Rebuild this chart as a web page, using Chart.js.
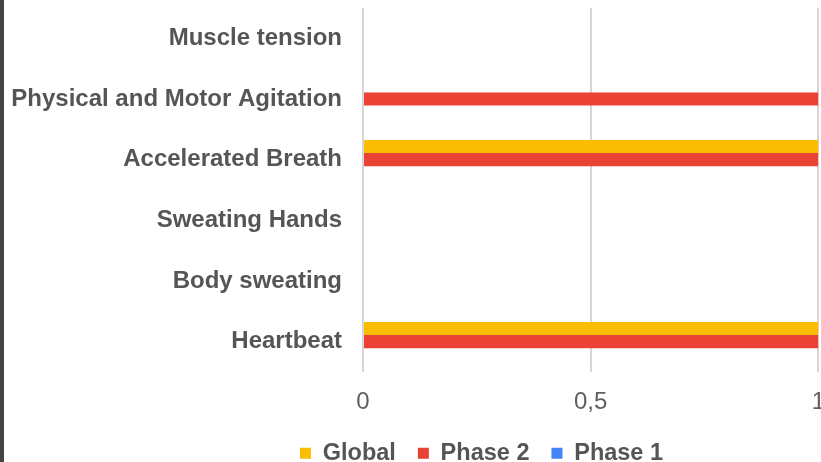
<!DOCTYPE html>
<html>
<head>
<meta charset="utf-8">
<script src="https://cdn.jsdelivr.net/npm/chart.js@4"></script>
<style>
    html, body { margin: 0; padding: 0; background: #fff; overflow: hidden; width: 821px; height: 462px; }
    #wrap { position: absolute; left: 0; top: 0; width: 841px; height: 475px; }
    #borde { position: absolute; left: 0; top: 0; width: 4px; height: 462px; background: #444; z-index: 2; }
</style>
</head>
<body>
<div id="borde"></div>
<div id="wrap"><canvas id="graficoSintomas"></canvas></div>
<script>
const categorias = ['Muscle tension', 'Physical and Motor Agitation', 'Accelerated Breath', 'Sweating Hands', 'Body sweating', 'Heartbeat'];
const valoresGlobal = [0, 0, 1, 0, 0, 1];
const valoresFase2 = [0, 1, 1, 0, 0, 1];
const valoresFase1 = [0, 0, 0, 0, 0, 0];
const ticksX = [0, 0.5, 1];
const etiquetasX = ['0', '0,5', '1'];

// la leyenda del original no esta centrada en el lienzo
const moverLeyenda = {
    id: 'moverLeyenda',
    afterLayout: function(chart) {
        if (chart.legend) chart.legend.left = 278;
    }
};

document.addEventListener('DOMContentLoaded', function() {
    //Grafico de barras horizontales
    const ctx = document.getElementById('graficoSintomas').getContext('2d');

    new Chart(ctx, {
        type: 'bar',
        data: {
            labels: categorias,
            datasets: [
                { label: 'Global', data: valoresGlobal, backgroundColor: '#FBBC04' },
                { label: 'Phase 2', data: valoresFase2, backgroundColor: '#EA4335' },
                { label: 'Phase 1', data: valoresFase1, backgroundColor: '#4285F4' }
            ]
        },
        plugins: [moverLeyenda],
        options: {
            indexAxis: 'y',
            responsive: true,
            maintainAspectRatio: false,
            animation: false,
            datasets: {
                bar: { categoryPercentage: 0.65, barPercentage: 1, borderWidth: 0 }
            },
            layout: {
                padding: { left: 0, top: 8, right: 10, bottom: 0 }
            },
            scales: {
                x: {
                    min: 0,
                    max: 1,
                    afterBuildTicks: function(scale) {
                        scale.ticks = ticksX.map(v => ({ value: v }));
                    },
                    afterFit: function(scale) { scale.height = 47.5; },
                    grid: { color: '#d6d6d6', lineWidth: 2, drawTicks: false },
                    border: { display: false },
                    ticks: {
                        padding: 16,
                        color: '#5f5f5f',
                        font: { family: 'Liberation Sans', size: 24 },
                        callback: function(value) {
                            const i = ticksX.indexOf(value);
                            return i >= 0 ? etiquetasX[i] : '';
                        }
                    }
                },
                y: {
                    afterFit: function(scale) {
                        scale.width = 363;
                        scale.paddingTop = 0;
                        scale.paddingBottom = 0;
                    },
                    grid: { display: false, drawTicks: false },
                    border: { display: false },
                    ticks: {
                        padding: 21,
                        color: '#555',
                        font: { family: 'Liberation Sans', size: 24, weight: 'bold' }
                    }
                }
            },
            plugins: {
                tooltip: { enabled: false },
                legend: {
                    position: 'bottom',
                    align: 'start',
                    labels: {
                        boxWidth: 11,
                        boxHeight: 11,
                        padding: 22,
                        color: '#555',
                        font: { family: 'Liberation Sans', size: 23.5, weight: 'bold' }
                    }
                }
            }
        }
    });
});
</script>
</body>
</html>
